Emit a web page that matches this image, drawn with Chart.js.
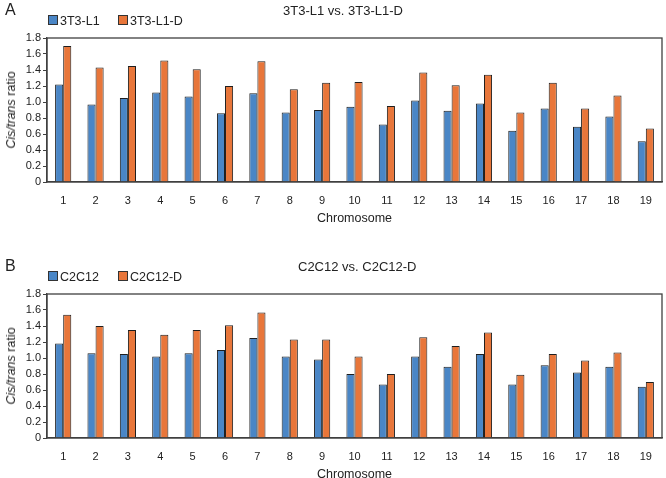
<!DOCTYPE html>
<html>
<head>
<meta charset="utf-8">
<script src="https://cdn.jsdelivr.net/npm/chart.js@4.4.1/dist/chart.umd.min.js"></script>
<style>
  body { margin:0; background:#fff; font-family:"Liberation Sans", Arial, sans-serif; color:#222; }
  #wrap { position:relative; width:666px; height:478px; overflow:hidden; }
  .panel { position:absolute; left:0; width:666px; height:228px; }
  .panel canvas { position:absolute; left:0; top:0; }
  .lbl { position:absolute; left:5px; top:1px; font-size:16px; }
  .ttl { position:absolute; left:283px; top:3px; font-size:13px; white-space:nowrap; }
  .leg { position:absolute; left:48px; top:14px; font-size:12.5px; }
  .leg span.item { display:inline-block; width:70px; white-space:nowrap; }
  .leg span.box { display:inline-block; width:8px; height:8px; border:1px solid #333; margin-right:2px; }
  .ytl { position:absolute; left:3px; top:110px; width:15px; height:0; }
  .ytl div { position:absolute; left:50%; top:0; font-size:12.5px; font-weight:normal; color:#222; white-space:nowrap;
             transform:translate(-50%,-50%) rotate(-90deg); }
</style>
</head>
<body>
<div id="wrap">
  <div class="panel" style="top:0">
    <canvas id="chartA" width="666" height="226"></canvas>
    <div class="lbl">A</div>
    <div class="ttl">3T3-L1 vs. 3T3-L1-D</div>
    <div class="leg" id="legA"></div>
    <div class="ytl"><div><i>Cis/trans</i> ratio</div></div>
  </div>
  <div class="panel" style="top:256px">
    <canvas id="chartB" width="666" height="226"></canvas>
    <div class="lbl">B</div>
    <div class="ttl" style="left:298px">C2C12 vs. C2C12-D</div>
    <div class="leg" id="legB"></div>
    <div class="ytl"><div><i>Cis/trans</i> ratio</div></div>
  </div>
</div>
<script>
// valeurs
const chromosomes = ['1','2','3','4','5','6','7','8','9','10','11','12','13','14','15','16','17','18','19'];
const yTicks = [0, 0.2, 0.4, 0.6, 0.8, 1.0, 1.2, 1.4, 1.6, 1.8];

const l1     = [1.22,0.97,1.05,1.12,1.07,0.86,1.11,0.87,0.90,0.94,0.72,1.02,0.89,0.98,0.64,0.92,0.69,0.82,0.51];
const l1D    = [1.70,1.43,1.45,1.52,1.41,1.20,1.51,1.16,1.24,1.25,0.95,1.37,1.21,1.34,0.87,1.24,0.92,1.08,0.67];
const c2c12  = [1.18,1.06,1.05,1.02,1.06,1.10,1.25,1.02,0.98,0.80,0.67,1.02,0.89,1.05,0.67,0.91,0.82,0.89,0.64];
const c2c12D = [1.54,1.40,1.35,1.29,1.35,1.41,1.57,1.23,1.23,1.02,0.80,1.26,1.15,1.32,0.79,1.05,0.97,1.07,0.70];

const BLUE = '#4a86c6', ORANGE = '#e8763a';
const FONT = '"Liberation Sans", Arial, sans-serif';

// cadre autour de la zone de tracé
const cadre = {
  id: 'cadre',
  afterDraw(chart) {
    const a = chart.chartArea, ctx = chart.ctx;
    ctx.save();
    ctx.strokeStyle = '#404040';
    ctx.lineWidth = 1.3;
    ctx.strokeRect(a.left, a.top, a.right - a.left, a.bottom - a.top);
    ctx.restore();
  }
};

function legende(id, datasets) {
  document.getElementById(id).innerHTML = datasets.map(d =>
    `<span class="item"><span class="box" style="background:${d.backgroundColor}"></span>${d.label}</span>`).join('');
}

function graphe(canvasId, legId, noms, serie1, serie2) {
  const datasets = [
    {label: noms[0], data: serie1, backgroundColor: BLUE},
    {label: noms[1], data: serie2, backgroundColor: ORANGE}
  ].map(d => Object.assign(d, {borderColor:'#1e1e1e', borderWidth:1, categoryPercentage:0.5, barPercentage:1.0}));
  legende(legId, datasets);
  new Chart(document.getElementById(canvasId), {
    type: 'bar',
    data: {labels: chromosomes, datasets},
    options: {
      responsive: false, animation: false,
      layout: {padding: {top: 38, right: 4, left: 0, bottom: 0}},
      plugins: {legend: {display: false}, tooltip: {enabled: false}},
      scales: {
        x: {
          grid: {display: false},
          border: {display: true, color: '#404040', width: 1.3},
          ticks: {color: '#222', font: {family: FONT, size: 11}, padding: 4, maxRotation: 0, autoSkip: false},
          title: {display: true, text: 'Chromosome', color: '#222', font: {family: FONT, size: 12.5}, padding: {top: 3, bottom: 0}},
          afterFit(s) { s.height = 44; }
        },
        y: {
          min: 0, max: 1.8,
          afterBuildTicks(s) { s.ticks = yTicks.map(v => ({value: v})); },
          grid: {drawOnChartArea: false, drawTicks: true, tickLength: 4, color: '#404040'},
          border: {display: true, color: '#404040', width: 1.3},
          ticks: {color: '#222', font: {family: FONT, size: 11}, padding: 2, autoSkip: false,
                  callback: v => v === 0 ? '0' : v.toFixed(1)},
          afterFit(s) { s.width = 47; }
        }
      }
    },
    plugins: [cadre]
  });
}

graphe('chartA', 'legA', ['3T3-L1', '3T3-L1-D'], l1, l1D);
graphe('chartB', 'legB', ['C2C12', 'C2C12-D'], c2c12, c2c12D);
</script>
</body>
</html>
